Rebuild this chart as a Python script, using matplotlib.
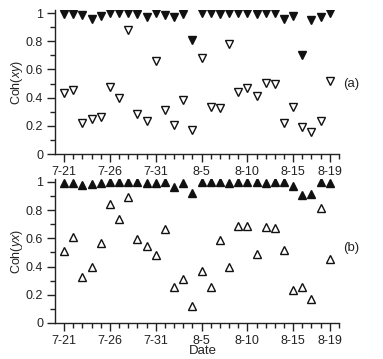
import matplotlib
matplotlib.use('Agg')
import matplotlib.pyplot as plt
from matplotlib.ticker import FixedLocator, MultipleLocator
plt.rcParams['font.family'] = ['Liberation Sans']
plt.rcParams['mathtext.fontset'] = 'custom'
plt.rcParams['mathtext.it'] = 'Liberation Sans:italic'
plt.rcParams['mathtext.rm'] = 'Liberation Sans'

# dates 7-21 .. 8-19
dates = ['7-21', '7-22', '7-23', '7-24', '7-25', '7-26', '7-27', '7-28', '7-29', '7-30',
         '7-31', '8-1', '8-2', '8-3', '8-4', '8-5', '8-6', '8-7', '8-8', '8-9',
         '8-10', '8-11', '8-12', '8-13', '8-14', '8-15', '8-16', '8-17', '8-18', '8-19']
tick_labels = ['7-21', '7-26', '7-31', '8-5', '8-10', '8-15', '8-19']

xy_filled = [0.99, 0.99, 0.985, 0.96, 0.98, 1.0, 1.0, 1.0, 0.99, 0.97,
             1.0, 0.985, 0.975, 0.995, 0.81, 1.0, 1.0, 0.99, 1.0, 1.0,
             1.0, 0.99, 1.0, 1.0, 0.96, 0.98, 0.70, 0.95, 0.97, 1.0]
xy_open = [0.434, 0.453, 0.217, 0.248, 0.264, 0.472, 0.396, 0.88, 0.283, 0.236,
           0.663, 0.311, 0.208, 0.384, 0.17, 0.68, 0.335, 0.323, 0.783, 0.439,
           0.469, 0.413, 0.505, 0.498, 0.222, 0.333, 0.189, 0.153, 0.236, 0.519]

yx_filled = [0.99, 0.99, 0.98, 0.985, 0.99, 1.0, 1.0, 1.0, 1.0, 0.99,
             0.99, 1.0, 0.965, 0.99, 0.925, 1.0, 1.0, 1.0, 0.995, 1.0,
             1.0, 0.998, 0.995, 1.0, 1.0, 0.975, 0.908, 0.917, 1.0, 0.99]
yx_open = [0.513, 0.61, 0.324, 0.40, 0.567, 0.846, 0.738, 0.894, 0.596, 0.548,
           0.48, 0.667, 0.255, 0.312, 0.123, 0.366, 0.253, 0.591, 0.40, 0.688,
           0.69, 0.487, 0.678, 0.674, 0.52, 0.236, 0.253, 0.17, 0.816, 0.454]

x = list(range(len(dates)))
tick_pos = [dates.index(t) for t in tick_labels]
txt = '#222222'
fs = 9

fig = plt.figure(figsize=(3.83, 3.59), dpi=100)
ax1 = fig.add_axes([0.1436, 0.571, 0.7414, 0.4006])
ax2 = fig.add_axes([0.1436, 0.1003, 0.7414, 0.4006])


def style(ax):
    ax.set_xlim(-1, 30)
    ax.set_ylim(0, 1.02)
    for s in ['top', 'right']:
        ax.spines[s].set_visible(False)
    for s in ['left', 'bottom']:
        ax.spines[s].set_linewidth(1.0)
        ax.spines[s].set_color(txt)
    ax.xaxis.set_major_locator(FixedLocator(tick_pos))
    ax.set_xticklabels(tick_labels)
    ax.xaxis.set_minor_locator(FixedLocator(range(0, 31)))
    ax.yaxis.set_major_locator(FixedLocator([0, 0.2, 0.4, 0.6, 0.8, 1.0]))
    ax.set_yticklabels(['0', '0.2', '0.4', '0.6', '0.8', '1'])
    ax.yaxis.set_minor_locator(MultipleLocator(0.1))
    ax.tick_params(which='major', length=6, width=1, color=txt, labelcolor=txt,
                   labelsize=fs, pad=2.5)
    ax.tick_params(which='minor', length=3.5, width=1, color=txt)


ax1.plot(x, xy_filled, linestyle='none', marker='v', markersize=5.5,
         color='#111111')
ax1.plot(x, xy_open, linestyle='none', marker='v', markersize=6,
         markerfacecolor='white', markeredgecolor='#111111', markeredgewidth=1)
style(ax1)
ax1.set_ylabel(r'Coh($\mathit{xy}$)', fontsize=fs, color=txt)
ax1.yaxis.set_label_coords(-0.105, 0.5)
ax1.text(1.015, 0.49, '(a)', transform=ax1.transAxes, fontsize=fs + 0.5, color=txt,
         va='center', ha='left')

ax2.plot(x, yx_filled, linestyle='none', marker='^', markersize=5.5,
         color='#111111')
ax2.plot(x, yx_open, linestyle='none', marker='^', markersize=6,
         markerfacecolor='white', markeredgecolor='#111111', markeredgewidth=1)
style(ax2)
ax2.set_ylabel(r'Coh($\mathit{yx}$)', fontsize=fs, color=txt)
ax2.yaxis.set_label_coords(-0.105, 0.5)
ax2.set_xlabel('Date', fontsize=fs + 0.5, color=txt)
ax2.xaxis.set_label_coords(0.52, -0.155)
ax2.text(1.015, 0.52, '(b)', transform=ax2.transAxes, fontsize=fs + 0.5, color=txt,
         va='center', ha='left')

fig.savefig('out.png', dpi=100)
